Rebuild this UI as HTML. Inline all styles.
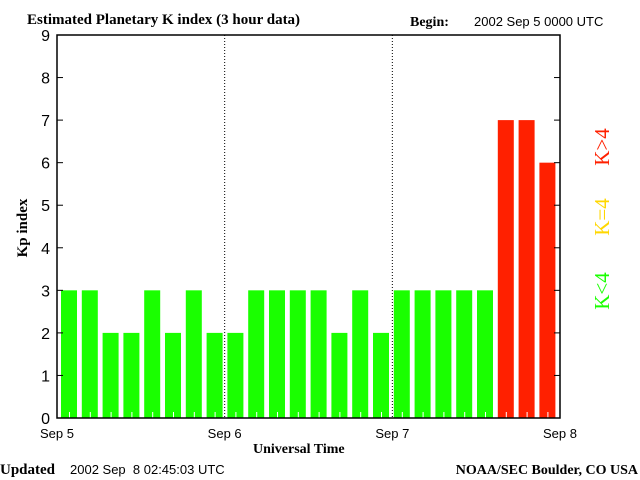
<!DOCTYPE html>
<html><head><meta charset="utf-8"><style>
body{margin:0;background:#fff;width:640px;height:480px;overflow:hidden}
svg{display:block}
text{font-family:"Liberation Serif",serif;fill:#000}
.s{font-family:"Liberation Sans",sans-serif}
</style></head><body>
<svg id="c" width="640" height="480">
<text x="27" y="24" font-size="15" font-weight="bold">Estimated Planetary K index (3 hour data)</text>
<text x="410" y="26" font-size="14" font-weight="bold">Begin:</text>
<text x="474" y="26" font-size="13" class="s">2002 Sep 5 0000 UTC</text>
<text x="0" y="474" font-size="15" font-weight="bold">Updated</text>
<text x="70" y="474" font-size="13" class="s" xml:space="preserve">2002 Sep  8 02:45:03 UTC</text>
<text x="638" y="474" font-size="14" font-weight="bold" text-anchor="end">NOAA/SEC Boulder, CO USA</text>
<text x="253" y="453" font-size="14" font-weight="bold">Universal Time</text>
<text transform="translate(27,228) rotate(-90)" font-size="15" font-weight="bold" text-anchor="middle">Kp index</text>
<g transform="translate(609,0) rotate(-90)">
<text x="-147" y="0" font-size="21" style="fill:#ff2000" text-anchor="middle">K&gt;4</text>
<text x="-217" y="0" font-size="21" style="fill:#ffd700" text-anchor="middle">K=4</text>
<text x="-291" y="0" font-size="21" style="fill:#1aff00" text-anchor="middle">K&lt;4</text>
</g>
<g id="plot"></g>
</svg>
<script>
const categories=["Sep5-00","Sep5-03","Sep5-06","Sep5-09","Sep5-12","Sep5-15","Sep5-18","Sep5-21","Sep6-00","Sep6-03","Sep6-06","Sep6-09","Sep6-12","Sep6-15","Sep6-18","Sep6-21","Sep7-00","Sep7-03","Sep7-06","Sep7-09","Sep7-12","Sep7-15","Sep7-18","Sep7-21"];
const kpValues=[3,3,2,2,3,2,3,2,2,3,3,3,3,2,3,2,3,3,3,3,3,7,7,6];
const yTicks=[0,1,2,3,4,5,6,7,8,9];
const dayLabels=["Sep 5","Sep 6","Sep 7","Sep 8"];
const NS="http://www.w3.org/2000/svg";
const L=57,R=560,T=35,B=418;
const xs=i=>L+i*(R-L)/categories.length;
const ys=v=>B-v*(B-T)/9;
const g=document.getElementById('plot');
function mk(t,a){const e=document.createElementNS(NS,t);for(const k in a)e.setAttribute(k,a[k]);g.appendChild(e);return e;}
const step=20.8;
const bx=i=>61+i*step;
kpValues.forEach((v,i)=>{
 const col=v>4?"#ff2000":(v==4?"#ffd700":"#1aff00");
 const r=mk('rect',{x:bx(i),y:ys(v),width:16,height:B-ys(v),fill:col});
 
 
 mk('line',{x1:bx(i)+8.5,x2:bx(i)+8.5,y1:B-6,y2:B,stroke:'#fff','stroke-width':1});
});
for(let d=1;d<3;d++){const x=xs(d*8);const l=mk('line',{x1:x,x2:x,y1:T,y2:B,stroke:'#000','stroke-dasharray':'1,2','stroke-width':1});
 }
const f=mk('rect',{x:L,y:T,width:R-L,height:B-T,fill:'none',stroke:'#000','stroke-width':1.5});

yTicks.forEach(v=>{
 mk('line',{x1:L,x2:L+6,y1:ys(v),y2:ys(v),stroke:'#000'});
 mk('line',{x1:R-6,x2:R,y1:ys(v),y2:ys(v),stroke:'#000'});
 const t=mk('text',{x:L-7,y:ys(v)+6,'font-size':16,'text-anchor':'end',class:'s'});t.textContent=v;
 
});
dayLabels.forEach((d,i)=>{const t=mk('text',{x:xs(i*8),y:438,'font-size':13,'text-anchor':'middle',class:'s'});t.textContent=d;
 });
</script>
</body></html>
